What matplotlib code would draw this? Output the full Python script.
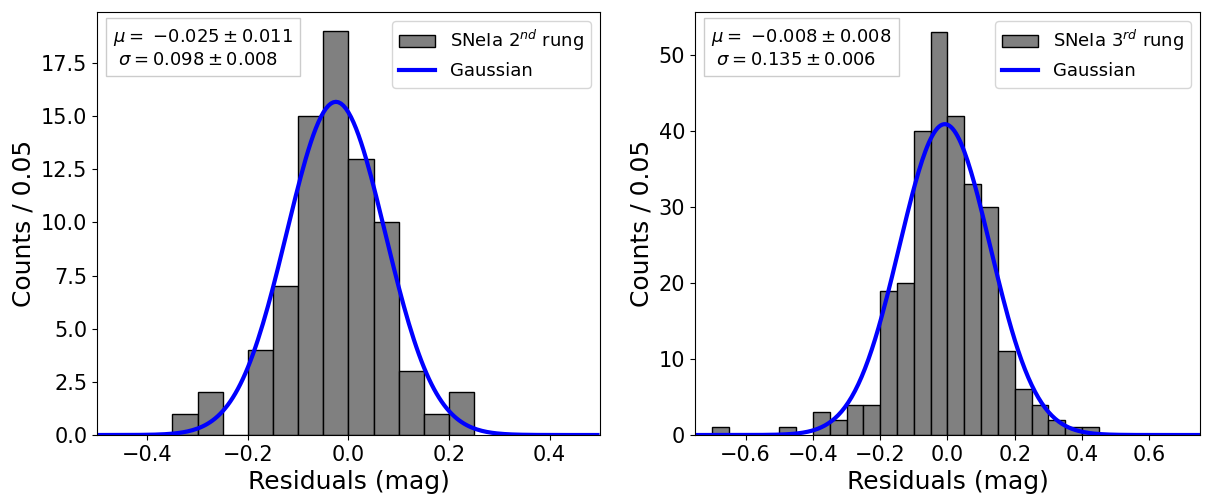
import numpy as np
import matplotlib
matplotlib.use("Agg")
import matplotlib.pyplot as plt

# ---- data ----
bin_width = 0.05

left_bin_lefts = [-0.35, -0.30, -0.25, -0.20, -0.15, -0.10, -0.05, 0.00, 0.05, 0.10, 0.15, 0.20]
left_counts = [1, 2, 0, 4, 7, 15, 19, 13, 10, 3, 1, 2]
left_mu, left_mu_err = -0.025, 0.011
left_sigma, left_sigma_err = 0.098, 0.008
left_label = r"SNeIa 2$^{nd}$ rung"

right_bin_lefts = [-0.70, -0.50, -0.40, -0.35, -0.30, -0.25, -0.20, -0.15, -0.10, -0.05,
                   0.00, 0.05, 0.10, 0.15, 0.20, 0.25, 0.30, 0.35, 0.40]
right_counts = [1, 1, 3, 2, 4, 4, 19, 20, 40, 53, 42, 33, 30, 11, 6, 4, 2, 1, 1]
right_mu, right_mu_err = -0.008, 0.008
right_sigma, right_sigma_err = 0.135, 0.006
right_label = r"SNeIa 3$^{rd}$ rung"

left_xlim = (-0.5, 0.5)
right_xlim = (-0.75, 0.75)
left_yticks = [0.0, 2.5, 5.0, 7.5, 10.0, 12.5, 15.0, 17.5]
right_yticks = [0, 10, 20, 30, 40, 50]

fig = plt.figure(figsize=(12.05, 4.98), dpi=100)
ax1 = fig.add_axes([0.0805, 0.1265, 0.4174, 0.8495])
ax2 = fig.add_axes([0.5768, 0.1265, 0.4190, 0.8495])


def panel(ax, lefts, counts, mu, mu_err, sig, sig_err, label, xlim, yticks, ylim_top, fmt):
    bars = ax.bar(lefts, counts, width=bin_width, align="edge", color="gray",
                  edgecolor="black", linewidth=1.0, label=label)
    n = sum(counts)
    x = np.arange(xlim[0], xlim[1], 0.005)
    y = n * bin_width / (sig * np.sqrt(2 * np.pi)) * np.exp(-0.5 * ((x - mu) / sig) ** 2)
    line, = ax.plot(x, y, color="blue", lw=3, label="Gaussian")
    ax.set_xlim(*xlim)
    ax.set_ylim(0, ylim_top)
    ax.set_yticks(yticks)
    ax.set_yticklabels([fmt.format(t) for t in yticks])
    ax.tick_params(labelsize=15)
    ax.set_xlabel("Residuals (mag)", fontsize=18)
    ax.set_ylabel("Counts / 0.05", fontsize=18)
    ax.legend([bars, line], [label, "Gaussian"], loc="upper right", fontsize=13)
    txt = (r"$\mu = $ $-%.3f \pm %.3f$" % (abs(mu), mu_err) + "\n" +
           r" $\sigma = %.3f \pm %.3f$" % (sig, sig_err))
    ax.text(0.032, 0.965, txt, transform=ax.transAxes, fontsize=13, va="top", ha="left",
            bbox=dict(boxstyle="square,pad=0.4", facecolor="white", edgecolor="0.8"))


panel(ax1, left_bin_lefts, left_counts, left_mu, left_mu_err, left_sigma, left_sigma_err,
      left_label, left_xlim, left_yticks, 19.9, "{:.1f}")
panel(ax2, right_bin_lefts, right_counts, right_mu, right_mu_err, right_sigma, right_sigma_err,
      right_label, right_xlim, right_yticks, 55.7, "{:d}")

fig.savefig("out.png", dpi=100)
